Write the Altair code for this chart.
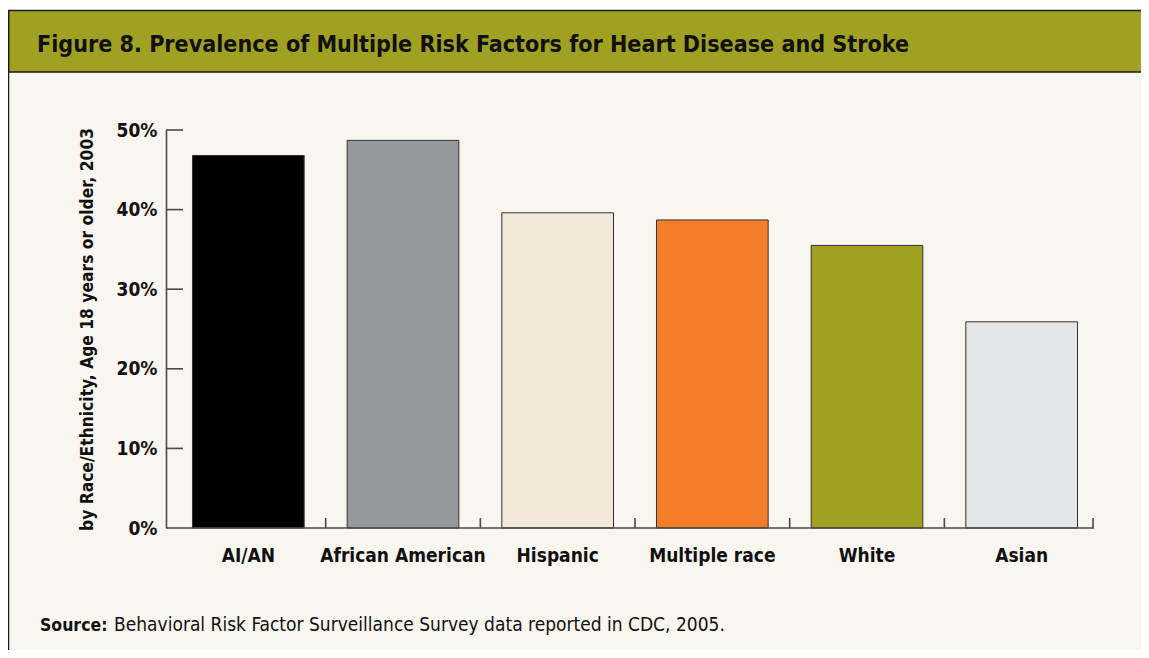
import altair as alt
import pandas as pd

categories = ["AI/AN", "African American", "Hispanic", "Multiple race", "White", "Asian"]
values = [46.8, 48.7, 39.6, 38.7, 35.5, 25.9]
colors = ["#000000", "#97989B", "#F1E8D8", "#F47D2A", "#A0A023", "#E5E6E8"]
y_ticks = [10, 20, 30, 40, 50]

title_text = "Figure 8. Prevalence of Multiple Risk Factors for Heart Disease and Stroke"
y_title = "by Race/Ethnicity, Age 18 years or older, 2003"
source_bold = "Source:"
source_rest = "Behavioral Risk Factor Surveillance Survey data reported in CDC, 2005."

FONT = "DejaVu Sans Condensed, Liberation Sans Narrow, sans-serif"
CREAM = "#F9F5EF"
OLIVE = "#A0A023"
AXIS = "#4A4A4A"

df = pd.DataFrame({"cat": categories, "value": values, "color": colors})
ticks_df = pd.DataFrame({"value": y_ticks})
one = pd.DataFrame({"k": [0]})

W, H = 928, 398
RIGHT = 47

xscale = alt.Scale(domain=categories, range=[5, 933], paddingInner=0, paddingOuter=0)
yscale = alt.Scale(domain=[0, 50], nice=False)

bars = alt.Chart(df).mark_bar(
    width=alt.RelativeBandSize(0.722), stroke="#333333", strokeWidth=1
).encode(
    x=alt.X("cat:N", sort=categories, scale=xscale,
            axis=alt.Axis(title=None, domain=False, ticks=False, tickSize=0,
                          labelAngle=0, labelFont=FONT, labelFontSize=19,
                          labelFontWeight="bold", labelColor="#111111",
                          labelPadding=18, labelLimit=0)),
    y=alt.Y("value:Q", scale=yscale,
            axis=alt.Axis(title=y_title, values=[0, 10, 20, 30, 40, 50],
                          labelExpr="datum.value + '%'", domain=True,
                          domainColor=AXIS, domainWidth=1.6, ticks=False,
                          tickSize=0, grid=False, labelFont=FONT,
                          labelFontSize=19, labelFontWeight="bold",
                          labelColor="#111111", labelPadding=9,
                          titleFont=FONT, titleFontSize=17.3,
                          titleFontWeight="bold", titleColor="#111111",
                          titleAngle=270, titleX=-79, titleY=199,
                          titleAlign="center", titleBaseline="middle")),
    color=alt.Color("color:N", scale=None),
)

ytick_rules = alt.Chart(ticks_df).mark_rule(color=AXIS, strokeWidth=1.6).encode(
    y=alt.Y("value:Q", scale=yscale),
    x=alt.value(0), x2=alt.value(17),
)

xtick_rules = alt.Chart(df).transform_filter(
    "datum.cat != 'AI/AN'"
).mark_rule(color=AXIS, strokeWidth=1.6).encode(
    x=alt.X("cat:N", sort=categories, scale=xscale, bandPosition=0),
    y=alt.value(H - 10), y2=alt.value(H),
)

end_tick = alt.Chart(one).mark_rule(color=AXIS, strokeWidth=1.6).encode(
    x=alt.value(W - 1), y=alt.value(H - 10), y2=alt.value(H),
)

x_domain = alt.Chart(one).mark_rule(color=AXIS, strokeWidth=1.6).encode(
    x=alt.value(0), x2=alt.value(W), y=alt.value(H),
)

white_strip = alt.Chart(one).mark_rect(color="white").encode(
    x=alt.value(-158), x2=alt.value(W + RIGHT), y=alt.value(-122), y2=alt.value(-119.5),
)

header = alt.Chart(one).mark_rect(fill=OLIVE, stroke="#1A1A1A", strokeWidth=1.5).encode(
    x=alt.value(-157.5), x2=alt.value(W + RIGHT + 5), y=alt.value(-119.5), y2=alt.value(-58),
)

left_border = alt.Chart(one).mark_rule(color="#1A1A1A", strokeWidth=1.5).encode(
    x=alt.value(-157.5), y=alt.value(-119.5), y2=alt.value(530),
)

title = alt.Chart(one).mark_text(
    text=title_text, font=FONT, fontSize=23.1, fontWeight="bold",
    color="#111111", align="left", baseline="alphabetic",
).encode(x=alt.value(-129), y=alt.value(-78))

src1 = alt.Chart(one).mark_text(
    text=source_bold, font=FONT, fontSize=17.5, fontWeight="bold",
    color="#111111", align="left", baseline="alphabetic",
).encode(x=alt.value(-126), y=alt.value(501))

src2 = alt.Chart(one).mark_text(
    text=source_rest, font=FONT, fontSize=19, fontWeight="normal",
    color="#111111", align="left", baseline="alphabetic",
).encode(x=alt.value(-52), y=alt.value(501))

chart = alt.layer(
    white_strip, header, left_border, title, bars, ytick_rules, xtick_rules,
    end_tick, x_domain, src1, src2,
).properties(
    width=W, height=H,
    padding={"left": 158, "top": 122, "right": RIGHT, "bottom": 122},
    autosize=alt.AutoSizeParams(type="none"),
    background=CREAM,
).configure_view(strokeWidth=0)

chart.save("out.html", embed_options={"renderer": "svg", "actions": False})
